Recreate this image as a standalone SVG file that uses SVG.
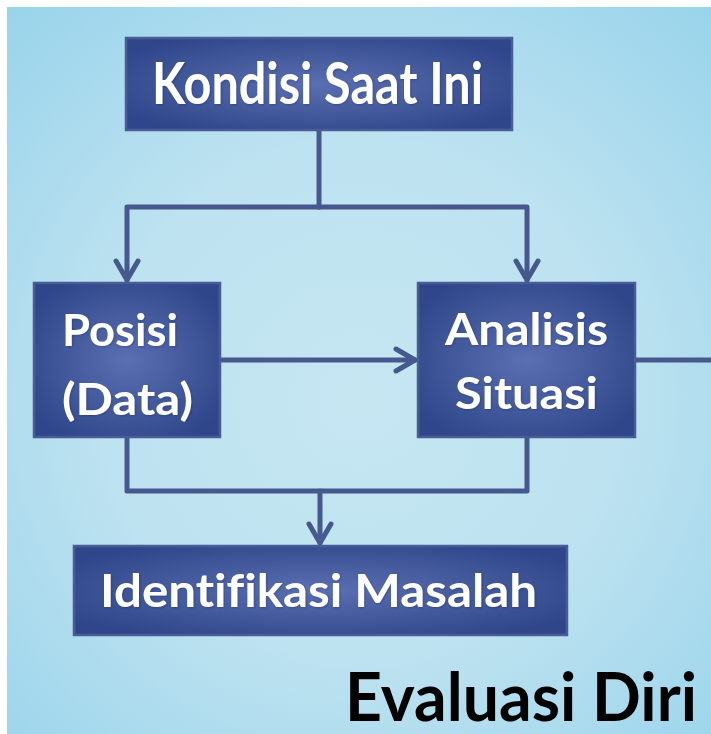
<svg xmlns="http://www.w3.org/2000/svg" width="711" height="734" viewBox="0 0 711 734">
  <defs>
    <radialGradient id="bg" cx="360" cy="400" r="520" gradientUnits="userSpaceOnUse">
      <stop offset="0" stop-color="#c6e6f2"/>
      <stop offset="0.5" stop-color="#bde2f0"/>
      <stop offset="1" stop-color="#9ad4eb"/>
    </radialGradient>
    <radialGradient id="box" cx="0.5" cy="0.5" r="0.6">
      <stop offset="0" stop-color="#5a6fb1"/>
      <stop offset="1" stop-color="#2f478a"/>
    </radialGradient>
    <marker id="arrow" markerUnits="userSpaceOnUse" markerWidth="40" markerHeight="40" viewBox="-25 -20 40 40" refX="0" refY="0" orient="auto">
      <path d="M-19,-11 L0,0 L-19,11" fill="none" stroke="#46598e" stroke-width="5" stroke-linecap="round" stroke-linejoin="round"/>
    </marker>
    <filter id="ts" x="-5%" y="-20%" width="110%" height="140%">
      <feDropShadow dx="1" dy="1" stdDeviation="0.8" flood-color="#000" flood-opacity="0.2"/>
    </filter>
  </defs>
  <style>
    .node rect { fill: url(#box); stroke: #4a5c96; stroke-width: 2.5; }
    .node text { fill: #ffffff; font-family: "Lato", "Open Sans", "Liberation Sans", sans-serif; font-weight: bold; font-variant-ligatures: none; filter: url(#ts); }
    .conn path { fill: none; stroke: #46598e; stroke-width: 5; stroke-linecap: round; stroke-linejoin: round; }
    .title { fill: #000000; font-family: "Lato", "Open Sans", "Liberation Sans", sans-serif; font-weight: bold; }
  </style>
  <rect x="0" y="0" width="711" height="734" fill="#ffffff"/>
  <rect x="7" y="7" width="704" height="727" fill="url(#bg)"/>

  <g id="connectors" class="conn">
    <path d="M319,130 V207"/>
    <path d="M319,207 H127 V280" marker-end="url(#arrow)"/>
    <path d="M319,207 H527 V280" marker-end="url(#arrow)"/>
    <path d="M220,360 H415" marker-end="url(#arrow)"/>
    <path d="M635,360 H713"/>
    <path d="M127,437 V491 H527 V437"/>
    <path d="M320,491 V543" marker-end="url(#arrow)"/>
  </g>

  <g id="kondisi" class="node">
    <rect x="126" y="38" width="386" height="92"/>
    <text x="152" y="104" font-size="57" textLength="331" lengthAdjust="spacingAndGlyphs">Kondisi Saat Ini</text>
  </g>
  <g id="posisi" class="node">
    <rect x="34" y="283" width="186" height="154"/>
    <text x="62" y="346" font-size="44" textLength="116" lengthAdjust="spacingAndGlyphs">Posisi</text>
    <text x="62" y="415" font-size="44" textLength="131" lengthAdjust="spacingAndGlyphs">(Data)</text>
  </g>
  <g id="analisis" class="node">
    <rect x="418" y="283" width="217" height="154"/>
    <text x="445" y="345" font-size="44" textLength="163" lengthAdjust="spacingAndGlyphs">Analisis</text>
    <text x="455" y="409" font-size="44" textLength="143" lengthAdjust="spacingAndGlyphs">Situasi</text>
  </g>
  <g id="identifikasi" class="node">
    <rect x="74" y="546" width="493" height="89"/>
    <text x="100" y="607" font-size="45" textLength="437" lengthAdjust="spacingAndGlyphs">Identifikasi Masalah</text>
  </g>

  <text class="title" x="345" y="721" font-size="67" textLength="352" lengthAdjust="spacingAndGlyphs">Evaluasi Diri</text>
</svg>
